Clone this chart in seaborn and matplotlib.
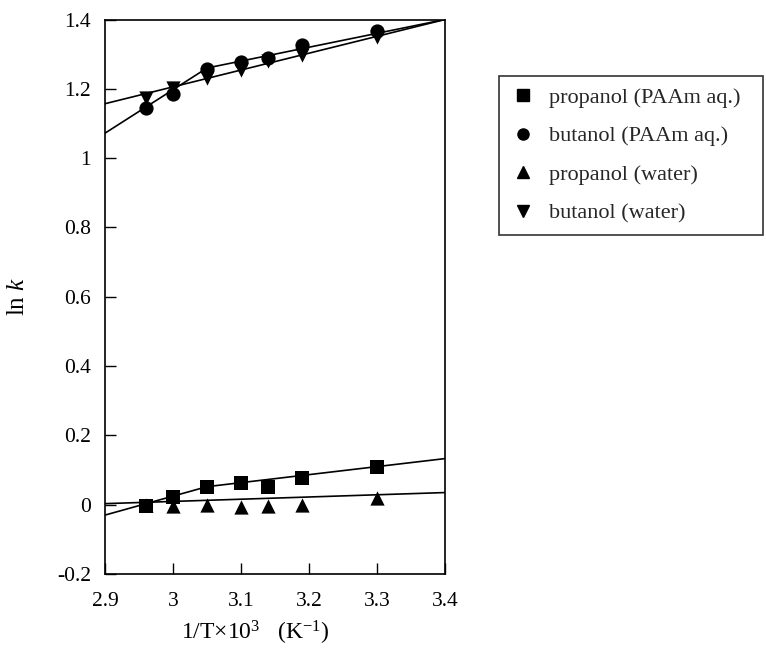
import numpy as np
import pandas as pd
import matplotlib
matplotlib.use("Agg")
import matplotlib.pyplot as plt
import seaborn as sns
from matplotlib.lines import Line2D

sns.set_theme(style="white")
plt.rcParams['font.family'] = ['Liberation Serif', 'DejaVu Serif']
plt.rcParams['mathtext.fontset'] = 'custom'
plt.rcParams['mathtext.rm'] = 'Liberation Serif'
plt.rcParams['mathtext.it'] = 'Liberation Serif:italic'

# ---- data ----
inv_T = [2.96, 3.00, 3.05, 3.10, 3.14, 3.19, 3.30]
propanol_paam = [-0.003, 0.023, 0.050, 0.062, 0.050, 0.076, 0.110]
butanol_paam = [1.146, 1.186, 1.257, 1.277, 1.289, 1.325, 1.367]
propanol_water = [0.0, -0.003, 0.0, -0.008, -0.003, 0.0, 0.020]
butanol_water = [1.173, 1.203, 1.232, 1.253, 1.281, 1.299, 1.349]

labels = ["propanol (PAAm aq.)", "butanol (PAAm aq.)",
          "propanol (water)", "butanol (water)"]
markers = ["s", "o", "^", "v"]

# fitted lines
fit_x_kinked = [2.90, 3.05, 3.40]
fit_propanol_paam = [-0.030, 0.052, 0.133]
fit_butanol_paam = [1.072, 1.260, 1.400]
fit_x_straight = [2.90, 3.40]
fit_propanol_water = [0.003, 0.035]
fit_butanol_water = [1.157, 1.400]

series = [propanol_paam, butanol_paam, propanol_water, butanol_water]
fits = [(fit_x_kinked, fit_propanol_paam), (fit_x_kinked, fit_butanol_paam),
        (fit_x_straight, fit_propanol_water), (fit_x_straight, fit_butanol_water)]

fig = plt.figure(figsize=(7.66, 6.48), dpi=100)
ax = fig.add_axes([105/766, 1-574/648, 340/766, (574-19.5)/648])

for (fx, fy) in fits:
    sns.lineplot(x=fx, y=fy, ax=ax, color="black", linewidth=1.2, legend=False)

for ys, m, lab in zip(series, markers, labels):
    sns.scatterplot(x=inv_T, y=ys, ax=ax, marker=m, color="black",
                    s=105, edgecolor="black", linewidth=0, legend=False, zorder=3)

ax.set_xlim(2.9, 3.4)
ax.set_ylim(-0.2, 1.4)
ax.set_xticks([2.9, 3.0, 3.1, 3.2, 3.3, 3.4])
ax.set_xticklabels(["2.9", "3", "3.1", "3.2", "3.3", "3.4"])
ax.set_yticks([-0.2, 0, 0.2, 0.4, 0.6, 0.8, 1.0, 1.2, 1.4])
ax.set_yticklabels(["-0.2", "0", "0.2", "0.4", "0.6", "0.8", "1", "1.2", "1.4"])
ax.tick_params(direction="in", length=8, width=1.0, color="black",
               labelsize=15.5, labelcolor="black",
               bottom=True, left=True, top=False, right=False)
ax.tick_params(axis="x", pad=13)
ax.tick_params(axis="y", pad=10)
for sp in ax.spines.values():
    sp.set_color("black")
    sp.set_linewidth(1.2)

ax.set_xlabel(r"1/T$\times$10$^{3}$   (K$^{-1}$)", fontsize=17, color="black")
ax.xaxis.set_label_coords((255-105)/340, -(619-574)/554.5)
ax.set_ylabel(r"ln $k$", fontsize=18, color="black")
ax.yaxis.set_label_coords(-(105-29)/340, 0.5)

handles = [Line2D([], [], marker=m, color="black", linestyle="none", markersize=8)
           for m in markers]
leg = fig.legend(handles, labels, loc="upper left",
                 bbox_to_anchor=(499/766, 1-76/648, 264/766, 0.0001),
                 mode="expand", fontsize=16,
                 frameon=True, fancybox=False, edgecolor="black",
                 labelspacing=0.82, handlelength=1.2, handletextpad=0.55,
                 borderpad=0.5, borderaxespad=0)
leg.get_frame().set_linewidth(1.2)

fig.savefig("out.png", dpi=100)
